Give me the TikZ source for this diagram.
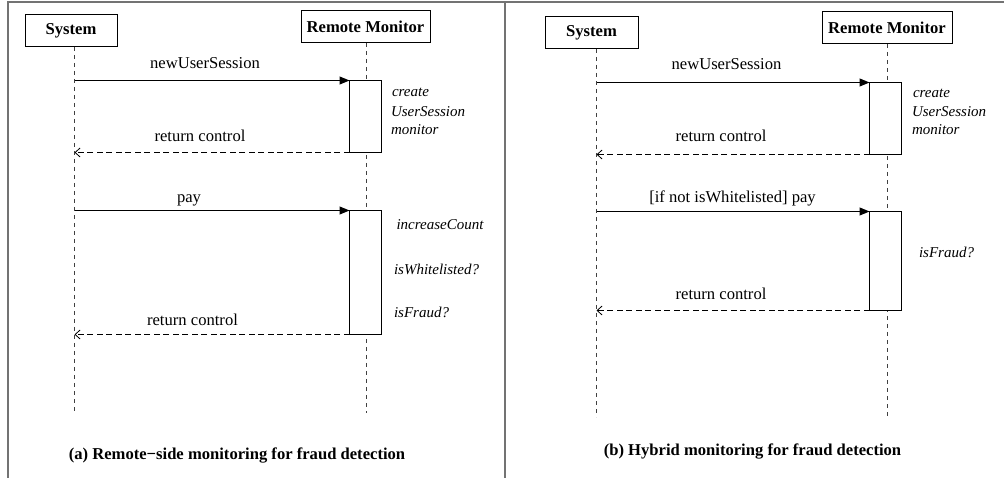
\documentclass[tikz,border=0pt]{standalone}
\usepackage{fontspec}
\setmainfont{Liberation Serif}
\usetikzlibrary{arrows.meta}
\begin{document}
\begin{tikzpicture}[x=1pt,y=-1pt,
  every node/.style={inner sep=0pt, outer sep=0pt},
  actor/.style={draw, line width=1pt, fill=white, minimum width=#1, minimum height=32pt,
    font=\fontsize{16.6}{19}\selectfont\bfseries},
  actbox/.style={draw, line width=1pt, fill=white, minimum width=32pt, anchor=north west},
  life/.style={line width=0.9pt, dash pattern=on 4pt off 4pt, black!75},
  call/.style={line width=1pt, -{Triangle[length=10pt,width=8pt]}},
  ret/.style={line width=1pt, dash pattern=on 6pt off 3.5pt, -{Straight Barb[length=5pt,width=9pt,line width=0.8pt]}},
  msglabel/.style={anchor=base, font=\fontsize{16.6}{19}\selectfont},
  note/.style={anchor=base west, font=\fontsize{15}{19}\selectfont\itshape},
  caption/.style={anchor=base, font=\fontsize{16.6}{19}\selectfont\bfseries},
  frame/.style={line width=2pt, black!55}
]
\useasboundingbox (0,0) rectangle (1004,478);
% frame
\coordinate (fbl) at (8,478);
\coordinate (ftl) at (8,2);
\coordinate (ftr) at (1004,2);
\coordinate (fdt) at (504.5,2);
\coordinate (fdb) at (504.5,478);
\draw[frame] (fbl) -- (ftl) -- (ftr);
\draw[frame] (fdt) -- (fdb);

% ---------------- panel (a) ----------------
\coordinate (s1t) at (74.5,47);
\coordinate (s1b) at (74.5,413);
\coordinate (r1t) at (366.5,43);
\coordinate (r1b) at (366.5,413);
\draw[life] (s1t) -- (s1b);
\draw[life] (r1t) -- (r1b);
\node[actor=92pt] (sysA) at (71,31) {System};
\node[actor=129pt] (remA) at (365.5,26.5) {Remote Monitor};
\node[actbox, minimum height=72pt] (actA1) at (349.5,80.5) {};
\node[actbox, minimum height=124pt] (actA2) at (349.5,210.5) {};

\draw[call] (s1t |- actA1.north west) -- (actA1.north west);
\draw[ret] (actA1.south west) -- (s1t |- actA1.south west);
\draw[call] (s1t |- actA2.north west) -- (actA2.north west);
\draw[ret] (actA2.south west) -- (s1t |- actA2.south west);

\node[msglabel] (mA1) at (205,68.5) {newUserSession};
\node[msglabel] (mA2) at (200,141.5) {return control};
\node[msglabel] (mA3) at (189,203) {pay};
\node[msglabel] (mA4) at (192.5,326) {return control};

\node[note] (nA1) at (392,97) {create};
\node[note] (nA2) at (391,116.5) {UserSession};
\node[note] (nA3) at (391,135) {monitor};
\node[note] (nA4) at (396.5,230) {increaseCount};
\node[note] (nA5) at (394,274.5) {isWhitelisted?};
\node[note] (nA6) at (394,317.5) {isFraud?};

\node[caption] (capA) at (237,459.5) {(a) Remote−side monitoring for fraud detection};

% ---------------- panel (b) ----------------
\coordinate (s2t) at (596.5,49);
\coordinate (s2b) at (596.5,417);
\coordinate (r2t) at (887.5,44);
\coordinate (r2b) at (887.5,417);
\draw[life] (s2t) -- (s2b);
\draw[life] (r2t) -- (r2b);
\node[actor=93pt] (sysB) at (591.5,32.5) {System};
\node[actor=130pt] (remB) at (887,28) {Remote Monitor};
\node[actbox, minimum height=72pt] (actB1) at (869.5,82.5) {};
\node[actbox, minimum height=99pt] (actB2) at (869.5,211.5) {};

\draw[call] (s2t |- actB1.north west) -- (actB1.north west);
\draw[ret] (actB1.south west) -- (s2t |- actB1.south west);
\draw[call] (s2t |- actB2.north west) -- (actB2.north west);
\draw[ret] (actB2.south west) -- (s2t |- actB2.south west);

\node[msglabel] (mB1) at (726.5,70) {newUserSession};
\node[msglabel] (mB2) at (721,141.5) {return control};
\node[msglabel] (mB3) at (732.5,203) {[if not isWhitelisted] pay};
\node[msglabel] (mB4) at (721,299.5) {return control};

\node[note] (nB1) at (913,97.5) {create};
\node[note] (nB2) at (912,116.5) {UserSession};
\node[note] (nB3) at (912,135) {monitor};
\node[note] (nB4) at (919,258) {isFraud?};

\node[caption] (capB) at (752.5,455.5) {(b) Hybrid monitoring for fraud detection};
\end{tikzpicture}
\end{document}
